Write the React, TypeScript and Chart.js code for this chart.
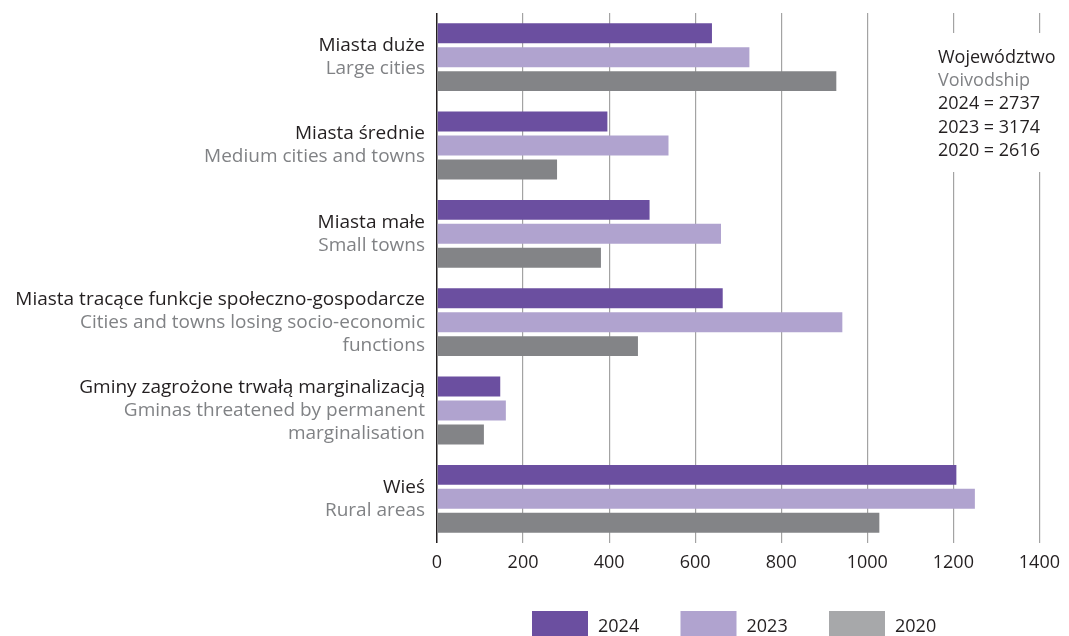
import { useEffect, useRef } from 'react';
import { Chart, registerables } from 'chart.js';

Chart.register(...registerables);

const categoriesPl = [
  'Miasta duże',
  'Miasta średnie',
  'Miasta małe',
  'Miasta tracące funkcje społeczno-gospodarcze',
  'Gminy zagrożone trwałą marginalizacją',
  'Wieś',
];
const categoriesEn = [
  ['Large cities'],
  ['Medium cities and towns'],
  ['Small towns'],
  ['Cities and towns losing socio-economic', 'functions'],
  ['Gminas threatened by permanent', 'marginalisation'],
  ['Rural areas'],
];
const seriesYears = ['2024', '2023', '2020'];
const values2024 = [639, 396, 494, 664, 147, 1207];
const values2023 = [726, 538, 660, 942, 160, 1250];
const values2020 = [928, 279, 381, 467, 109, 1028];
const xTickValues = [0, 200, 400, 600, 800, 1000, 1200, 1400];
const regionTitlePl = 'Województwo';
const regionTitleEn = 'Voivodship';
const regionTotals = [2737, 3174, 2616];

const barColors = ['#6b4fa0', '#b0a3cf', '#838487'];
const legendColors = ['#6b4fa0', '#b0a3cf', '#a7a8aa'];
const FONT = "'Open Sans', sans-serif";
const DARK = '#231f20';
const GREY = '#808285';

const categoryLabelsPlugin = {
  id: 'categoryLabels',
  afterDraw(chart: any) {
    const { ctx, chartArea } = chart;
    const y = chart.scales.y;
    ctx.save();
    ctx.font = `19px ${FONT}`;
    ctx.textAlign = 'right';
    ctx.textBaseline = 'middle';
    const lh = 23;
    categoriesPl.forEach((pl, i) => {
      const lines = [pl, ...categoriesEn[i]];
      const yc = y.getPixelForValue(i);
      const start = yc - ((lines.length - 1) * lh) / 2;
      lines.forEach((t, j) => {
        ctx.fillStyle = j === 0 ? DARK : GREY;
        ctx.fillText(t, chartArea.left - 12, start + j * lh);
      });
    });
    ctx.restore();
  },
};

const regionBoxPlugin = {
  id: 'regionBox',
  beforeDatasetsDraw(chart: any) {
    const { ctx } = chart;
    ctx.save();
    ctx.fillStyle = '#ffffff';
    ctx.fillRect(930, 33, 132, 139);
    ctx.font = `18px ${FONT}`;
    ctx.textAlign = 'left';
    ctx.textBaseline = 'alphabetic';
    const lines = [
      regionTitlePl,
      regionTitleEn,
      ...seriesYears.map((yr, i) => `${yr} = ${regionTotals[i]}`),
    ];
    lines.forEach((t, j) => {
      ctx.fillStyle = j === 1 ? GREY : DARK;
      ctx.fillText(t, 938, 63 + j * 23.2);
    });
    ctx.restore();
  },
};

const customLegendPlugin = {
  id: 'customLegend',
  afterDraw(chart: any) {
    const { ctx, chartArea } = chart;
    ctx.save();
    ctx.font = `18px ${FONT}`;
    ctx.textAlign = 'left';
    ctx.textBaseline = 'alphabetic';
    const x0 = chartArea.left + 95;
    seriesYears.forEach((yr, i) => {
      const x = x0 + i * 148.5;
      ctx.fillStyle = legendColors[i];
      ctx.fillRect(x, 611, 56, 30);
      ctx.fillStyle = DARK;
      ctx.fillText(yr, x + 66, 632);
    });
    ctx.restore();
  },
};

export default function App() {
  const ref = useRef<HTMLCanvasElement | null>(null);

  useEffect(() => {
    if (!ref.current) return;
    const seriesValues = [values2024, values2023, values2020];
    const chart = new Chart(ref.current, {
      type: 'bar',
      data: {
        labels: categoriesPl,
        datasets: seriesYears.map((yr, i) => ({
          label: yr,
          data: seriesValues[i],
          backgroundColor: barColors[i],
          borderWidth: 0,
          categoryPercentage: 0.814,
          barPercentage: 0.833,
        })),
      },
      options: {
        indexAxis: 'y',
        animation: false,
        responsive: false,
        layout: { padding: { left: 437, right: 26, top: 13, bottom: 0 } },
        plugins: {
          legend: { display: false },
          tooltip: { enabled: false },
        },
        scales: {
          x: {
            type: 'linear',
            min: 0,
            max: 1400,
            afterFit: (scale: any) => {
              scale.height = 93;
            },
            afterBuildTicks: (scale: any) => {
              scale.ticks = xTickValues.map((v) => ({ value: v }));
            },
            ticks: {
              color: DARK,
              font: { family: FONT, size: 18 },
              padding: 9,
              maxRotation: 0,
              callback: (v: any) => String(v),
            },
            grid: {
              drawTicks: false,
              color: (c: any) => (c.tick && c.tick.value === 0 ? '#231f20' : '#a3a3a3'),
              lineWidth: (c: any) => (c.tick && c.tick.value === 0 ? 1.5 : 1.2),
            },
            border: { display: false },
          },
          y: {
            display: false,
          },
        },
      },
      plugins: [regionBoxPlugin, categoryLabelsPlugin, customLegendPlugin],
    });
    return () => chart.destroy();
  }, []);

  return (
    <canvas
      ref={ref}
      width={1069}
      height={636}
      style={{ position: 'fixed', left: 0, top: 0, display: 'block', background: '#fff' }}
    />
  );
}
